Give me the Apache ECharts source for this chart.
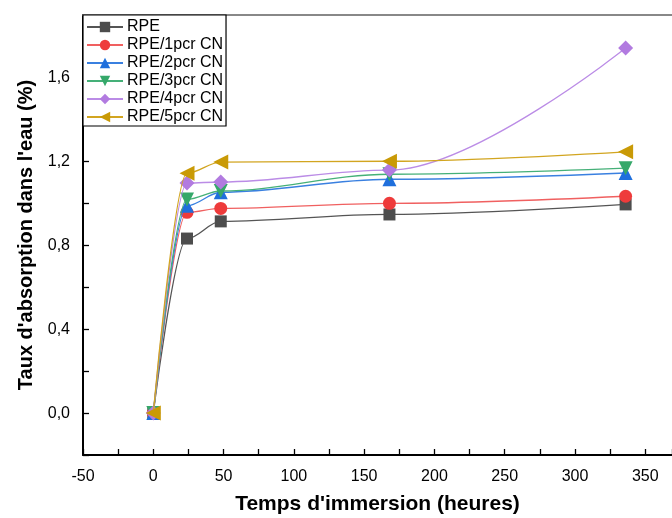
<!DOCTYPE html>
<html>
<head>
<meta charset="utf-8">
<script src="https://cdn.jsdelivr.net/npm/echarts@6/dist/echarts.min.js"></script>
<style>
html, body { margin: 0; padding: 0; background: #fff; }
#chart { width: 672px; height: 518px; }
</style>
</head>
<body>
<div id="chart"></div>
<script>
// temps d'immersion (heures)
const hours = [0, 24, 48, 168, 336]

// taux d'absorption (%) par formulation
const rpe = [0, 0.833, 0.915, 0.948, 0.996]
const rpe1 = [0, 0.958, 0.977, 1.001, 1.035]
const rpe2 = [0, 0.99, 1.054, 1.116, 1.146]
const rpe3 = [0, 1.02, 1.06, 1.14, 1.169]
const rpe4 = [0, 1.098, 1.103, 1.16, 1.742]
const rpe5 = [0, 1.145, 1.198, 1.202, 1.247]

const seriesNames = ['RPE', 'RPE/1pcr CN', 'RPE/2pcr CN', 'RPE/3pcr CN', 'RPE/4pcr CN', 'RPE/5pcr CN']
const seriesValues = [rpe, rpe1, rpe2, rpe3, rpe4, rpe5]

const xTickLabels = ['-50', '0', '50', '100', '150', '200', '250', '300', '350']
const yTickLabels = ['0,0', '0,4', '0,8', '1,2', '1,6']

// style par série
const colors = ['#4d4d4d', '#ee3b3b', '#1f6fdc', '#35a86a', '#b27be0', '#c99a06']
const lineColors = ['#555555', '#f06060', '#3a80e0', '#45b078', '#bb8ce6', '#d2a520']
const symbols = ['rect', 'circle', 'triangle', 'triangle', 'diamond', 'triangle']
const rotations = [0, 0, 0, 180, 0, 90]
const sizes = [12, 13, 14, 14, 15, 15]

const chart = echarts.init(document.getElementById('chart'))
const font = '"Liberation Sans", Arial, sans-serif'

const series = seriesNames.map((name, i) => ({
	name,
	type: 'line',
	smooth: 0.35,
	smoothMonotone: 'x',
	symbol: symbols[i],
	symbolRotate: rotations[i],
	symbolSize: sizes[i],
	z: 2 + i,
	itemStyle: { color: colors[i] },
	lineStyle: { color: lineColors[i], width: 1.3 },
	data: hours.map((h, k) => [h, seriesValues[i][k]]),
}))

chart.setOption({
	animation: false,
	textStyle: { fontFamily: font },
	grid: { left: 83, top: 15, right: 0, bottom: 63, outerBoundsMode: 'none', containLabel: false },
	legend: {
		left: 83,
		top: 15,
		orient: 'vertical',
		itemGap: 2,
		itemWidth: 36,
		itemHeight: 13,
		padding: [4, 3, 1, 3],
		borderColor: '#000',
		borderWidth: 1.2,
		backgroundColor: '#fff',
		textStyle: { fontFamily: font, fontSize: 16, color: '#000', padding: [0, 0, 0, -1] },
		data: seriesNames,
	},
	xAxis: [
		{
			type: 'value',
			min: -50,
			max: 369,
			interval: 25,
			name: "Temps d'immersion (heures)",
			nameLocation: 'middle',
			nameGap: 39,
			nameTextStyle: { fontFamily: font, fontSize: 21, fontWeight: 'bold', color: '#000' },
			splitLine: { show: false },
			axisLine: { show: true, onZero: false, lineStyle: { color: '#000', width: 2 } },
			axisTick: { show: true, inside: true, length: 6, lineStyle: { color: '#000', width: 1.3 } },
			axisLabel: {
				fontSize: 16,
				color: '#000',
				margin: 14,
				formatter: (v) => {
					const s = String(Math.round(v))
					return xTickLabels.includes(s) ? s : ''
				},
			},
		},
		{
			type: 'value',
			position: 'top',
			min: -50,
			max: 369,
			axisLine: { show: true, onZero: false, lineStyle: { color: '#888', width: 2 } },
			axisTick: { show: false },
			axisLabel: { show: false },
			splitLine: { show: false },
		},
	],
	yAxis: {
		type: 'value',
		min: -0.2,
		max: 1.9,
		interval: 0.2,
		name: "Taux d'absorption dans l'eau (%)",
		nameLocation: 'middle',
		nameGap: 46,
		nameTextStyle: { fontFamily: font, fontSize: 20, fontWeight: 'bold', color: '#000' },
		splitLine: { show: false },
		axisLine: { show: true, onZero: false, lineStyle: { color: '#000', width: 2 } },
		axisTick: { show: true, inside: true, length: 6, lineStyle: { color: '#000', width: 1.3 } },
		axisLabel: {
			fontSize: 16,
			color: '#000',
			margin: 13,
			showMaxLabel: false,
			formatter: (v) => {
				const s = (Math.round(v * 10) / 10).toFixed(1).replace('.', ',')
				return yTickLabels.includes(s) ? s : ''
			},
		},
	},
	series,
})
</script>
</body>
</html>
